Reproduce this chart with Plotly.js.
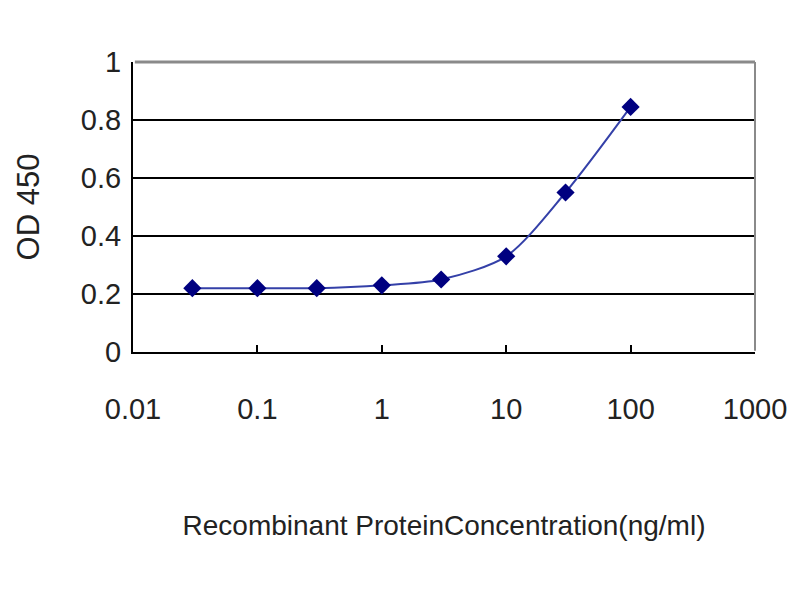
<!DOCTYPE html>
<html>
<head>
<meta charset="utf-8">
<script src="https://cdn.plot.ly/plotly-3.0.1.min.js"></script>
<style>
  html, body { margin: 0; padding: 0; background: #fff; }
  #myDiv { width: 800px; height: 600px; }
</style>
</head>
<body>
<div id="myDiv"></div>
<script>
// concentration (ng/ml) and OD 450 readings
var conc = [0.03, 0.1, 0.3, 1, 3, 10, 30, 100];
var od450 = [0.22, 0.22, 0.22, 0.23, 0.25, 0.33, 0.55, 0.845];

var xTicks = [0.01, 0.1, 1, 10, 100, 1000];
var xTickText = ['0.01', '0.1', '1', '10', '100', '1000'];
var yTicks = [0, 0.2, 0.4, 0.6, 0.8, 1];
var yTickText = ['0', '0.2', '0.4', '0.6', '0.8', '1'];

var trace1 = {
  x: conc,
  y: od450,
  type: 'scatter',
  mode: 'lines+markers',
  line: { color: '#3440a8', width: 2, shape: 'spline', smoothing: 0.8 },
  marker: { symbol: 'diamond', size: 14, color: '#000080' },
  hoverinfo: 'x+y'
};

var font = 'Liberation Sans, Arial, sans-serif';

var layout = {
  showlegend: false,
  paper_bgcolor: '#ffffff',
  plot_bgcolor: '#ffffff',
  margin: { l: 133, r: 45, t: 62, b: 248 },
  xaxis: {
    type: 'log',
    range: [-2, 3],
    tickvals: xTicks,
    ticktext: xTickText,
    ticks: 'inside',
    ticklen: 7,
    tickwidth: 2,
    tickcolor: '#000',
    showgrid: false,
    zeroline: false,
    showline: true,
    linecolor: '#000',
    linewidth: 2,
    ticklabelstandoff: 30,
    tickfont: { family: font, size: 29, color: '#222' },
    title: {
      text: 'Recombinant ProteinConcentration(ng/ml)',
      font: { family: font, size: 28, color: '#222' },
      standoff: 92
    }
  },
  yaxis: {
    range: [0, 1],
    tickvals: yTicks,
    ticktext: yTickText,
    ticks: 'inside',
    ticklen: 7,
    tickwidth: 2,
    tickcolor: '#000',
    showgrid: true,
    gridcolor: '#000',
    gridwidth: 2.5,
    zeroline: false,
    showline: true,
    linecolor: '#000',
    linewidth: 2,
    ticklabelstandoff: 4,
    tickfont: { family: font, size: 29, color: '#222' },
    title: {
      text: 'OD 450',
      font: { family: font, size: 31, color: '#222' },
      standoff: 32
    }
  },
  // grey frame on top and right of the plot area
  shapes: [
    { type: 'line', xref: 'paper', yref: 'paper', x0: 0.003, x1: 1, y0: 1, y1: 1,
      line: { color: '#8a8a8a', width: 3 }, layer: 'above' },
    { type: 'line', xref: 'paper', yref: 'paper', x0: 1, x1: 1, y0: 0.004, y1: 1,
      line: { color: '#8a8a8a', width: 2 }, layer: 'above' }
  ]
};

Plotly.newPlot('myDiv', [trace1], layout, { displayModeBar: false, staticPlot: true });
</script>
</body>
</html>
